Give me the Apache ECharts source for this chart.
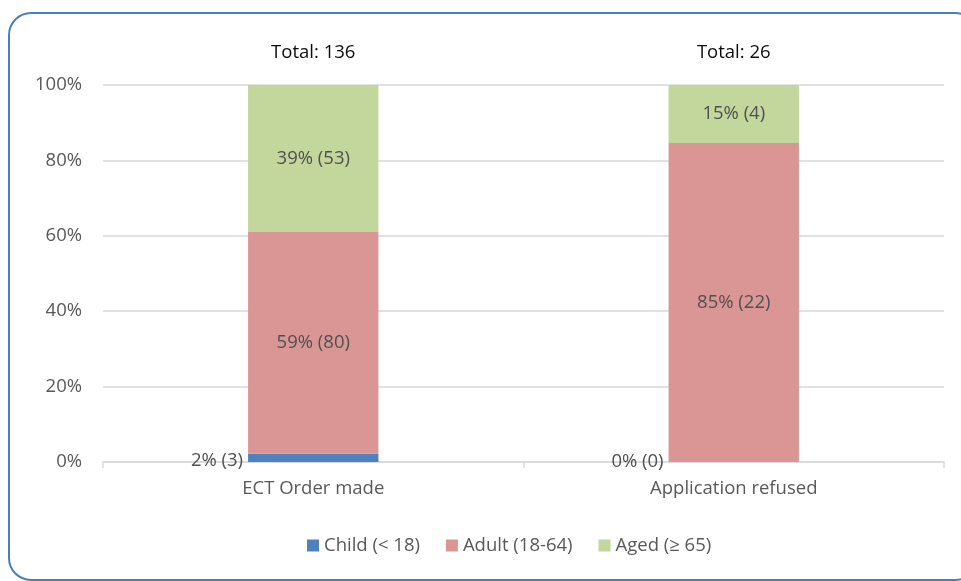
<!DOCTYPE html>
<html>
<head>
<meta charset="utf-8">
<script src="https://cdn.jsdelivr.net/npm/echarts@6/dist/echarts.min.js"></script>
<style>html,body{margin:0;padding:0;background:#fff}#c{width:961px;height:581px}</style>
</head>
<body>
<div id="c"></div>
<script>
const categories = ['ECT Order made', 'Application refused'];
const totals = ['Total: 136', 'Total: 26'];
const seriesNames = ['Child (< 18)', 'Adult (18-64)', 'Aged (\u2265 65)'];
const childPct = [2.2, 0];
const adultPct = [58.8, 84.6];
const agedPct = [39.0, 15.4];
const childCount = [3, 0];
const adultCount = [80, 22];
const agedCount = [53, 4];
const yTicks = [0, 20, 40, 60, 80, 100];

const colors = ['#4F81BD', '#D99694', '#C3D69B'];
const font = '"Open Sans", "Noto Sans", sans-serif';

function mkSeries(name, pct, cnt, color, labelPos, shiftDown) {
  return {
    name: name, type: 'bar', stack: 'total', barWidth: '31%',
    data: pct.map(v => shiftDown && v > 0 ? {value: v, label: {offset: [0, 3]}} : v),
    itemStyle: {color: color},
    label: {
      show: true, position: labelPos, distance: 5,
      color: '#505050', fontSize: 18.5, fontFamily: font,
      formatter: p => Math.round(p.value) + '% (' + cnt[p.dataIndex] + ')'
    },
    emphasis: {disabled: true}
  };
}

const chart = echarts.init(document.getElementById('c'));
chart.setOption({
  animation: false,
  textStyle: {fontFamily: font},
  graphic: [{
    type: 'rect', shape: {x: 9, y: 13, width: 968, height: 567, r: 22},
    style: {fill: 'none', stroke: '#4A7EBB', lineWidth: 2}, silent: true, z: 100
  }],
  grid: {left: 103, right: 17, top: 85, bottom: 119},
  legend: {
    data: seriesNames, left: 302, top: 531, itemWidth: 12, itemHeight: 12,
    itemGap: 26, itemStyle: {borderWidth: 0}, icon: 'rect',
    textStyle: {color: '#595959', fontSize: 18.5, fontFamily: font}
  },
  xAxis: [{
    type: 'category', data: categories,
    axisLine: {lineStyle: {color: '#D9D9D9', width: 1.5}},
    axisTick: {show: true, length: 6, lineStyle: {color: '#D9D9D9', width: 1.5}},
    axisLabel: {color: '#595959', fontSize: 18.5, margin: 17, fontFamily: font}
  }, {
    type: 'category', data: totals, position: 'top',
    axisLine: {show: false}, axisTick: {show: false},
    axisLabel: {color: '#0D0D0D', fontSize: 18.5, margin: 23, fontFamily: font}
  }],
  yAxis: {
    type: 'value', min: 0, max: 100, interval: 20,
    axisLine: {show: false}, axisTick: {show: false},
    splitLine: {lineStyle: {color: '#D9D9D9', width: 1.5}},
    axisLabel: {color: '#595959', fontSize: 18.5, margin: 21, fontFamily: font,
      formatter: v => yTicks.includes(v) ? v + '%' : ''}
  },
  series: [
    mkSeries(seriesNames[0], childPct, childCount, colors[0], 'left', true),
    mkSeries(seriesNames[1], adultPct, adultCount, colors[1], 'inside', false),
    mkSeries(seriesNames[2], agedPct, agedCount, colors[2], 'inside', false)
  ]
});
</script>
</body>
</html>
